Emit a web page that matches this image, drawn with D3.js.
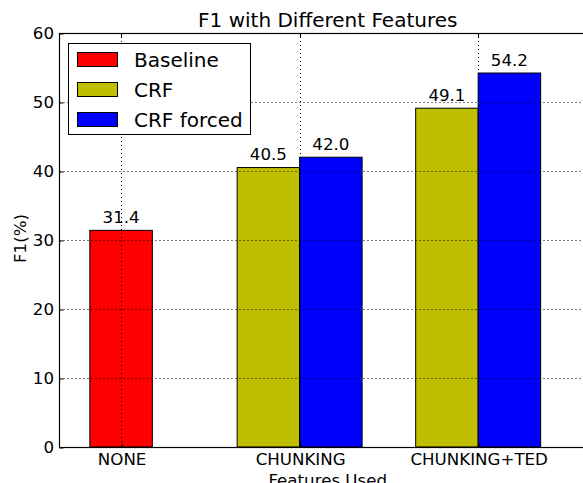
<!DOCTYPE html>
<html><head><meta charset="utf-8">
<script src="https://cdn.jsdelivr.net/npm/d3@7"></script>
<style>body{margin:0;background:#fff}svg{display:block}text{font-family:"DejaVu Sans",sans-serif;fill:#000}</style>
</head><body>
<svg id="c" width="583" height="483"></svg>
<script>
const categories = ["NONE", "CHUNKING", "CHUNKING+TED"];
const seriesNames = ["Baseline", "CRF", "CRF forced"];
const baselineValues = [31.4, null, null];
const crfValues = [null, 40.5, 49.1];
const crfForcedValues = [null, 42.0, 54.2];
const yTicks = [0, 10, 20, 30, 40, 50, 60];
const colors = ["#ff0000", "#bfbf00", "#0000ff"];

const svg = d3.select("#c");
const T = 33, B = 447;
const bw = 0.35;
const x = d3.scaleLinear().domain([-0.345, 2.66]).range([59.5, 596]);
const L = x(-0.345), R = x(2.66);
const y = d3.scaleLinear().domain([0, 60]).range([B, T]);
const fs = "16.67px";

const bars = [];
baselineValues.forEach((v, i) => { if (v != null) bars.push({x0: i - bw / 2, v, s: 0}); });
crfValues.forEach((v, i) => { if (v != null) bars.push({x0: i - bw, v, s: 1}); });
crfForcedValues.forEach((v, i) => { if (v != null) bars.push({x0: i, v, s: 2}); });

const clip = svg.append("defs").append("clipPath").attr("id", "pc");
clip.append("rect").attr("x", L).attr("y", T).attr("width", R - L).attr("height", B - T + 1);

const g = svg.append("g").attr("clip-path", "url(#pc)");
g.selectAll("rect.bar").data(bars).join("rect")
  .attr("x", d => x(d.x0)).attr("width", d => x(d.x0 + bw) - x(d.x0))
  .attr("y", d => y(d.v)).attr("height", d => y(0) - y(d.v))
  .attr("fill", d => colors[d.s]).attr("stroke", "#000").attr("stroke-width", 1);

// grid on top of bars
g.selectAll("line.hg").data(yTicks).join("line")
  .attr("x1", L).attr("x2", R).attr("y1", d => y(d) + 0.5).attr("y2", d => y(d) + 0.5)
  .attr("stroke", "#000").attr("stroke-width", 1).attr("stroke-dasharray", "1,3");
g.selectAll("line.vg").data(categories.map((c, i) => i)).join("line")
  .attr("y1", T).attr("y2", B).attr("x1", d => Math.round(x(d)) + 0.5).attr("x2", d => Math.round(x(d)) + 0.5)
  .attr("stroke", "#000").attr("stroke-width", 1).attr("stroke-dasharray", "1,3");

// value labels
svg.selectAll("text.val").data(bars).join("text")
  .attr("x", d => x(d.x0 + bw / 2)).attr("y", d => y(d.v) - 7.5)
  .attr("text-anchor", "middle").style("font-size", fs)
  .text(d => d.v.toFixed(1));

// axes frame
svg.append("rect").attr("x", L).attr("y", T + 0.5).attr("width", R - L).attr("height", B - T)
  .attr("fill", "none").attr("stroke", "#000").attr("stroke-width", 1.2);

// y axis (ticks inward)
const ya = d3.axisLeft(y).tickValues(yTicks).tickSizeInner(-4).tickSizeOuter(0).tickPadding(5.5);
const yg = svg.append("g").attr("transform", `translate(${L},0.5)`).call(ya);
yg.select(".domain").remove();
yg.selectAll("text").style("font-size", fs).style("font-family", "DejaVu Sans");

// x axis bottom
const xa = d3.axisBottom(x).tickValues([0, 1, 2]).tickFormat(i => categories[i]).tickSizeInner(-4).tickSizeOuter(0).tickPadding(6);
const xg = svg.append("g").attr("transform", `translate(0.5,${B + 0.5})`).call(xa);
xg.select(".domain").remove();
xg.selectAll("text").style("font-size", fs).style("font-family", "DejaVu Sans");
// top ticks
svg.selectAll("line.tt").data([0, 1, 2]).join("line")
  .attr("x1", d => Math.round(x(d)) + 0.5).attr("x2", d => Math.round(x(d)) + 0.5)
  .attr("y1", T).attr("y2", T + 4).attr("stroke", "#000");

// title & labels
svg.append("text").attr("x", (L + R) / 2).attr("y", 27).attr("text-anchor", "middle")
  .style("font-size", "20px").text("F1 with Different Features");
svg.append("text").attr("x", (L + R) / 2).attr("y", 485.5).attr("text-anchor", "middle")
  .style("font-size", fs).text("Features Used");
svg.append("text").attr("transform", `translate(25.5,${(T + B) / 2 - 1.5}) rotate(-90)`).attr("text-anchor", "middle")
  .style("font-size", fs).text("F1(%)");

// legend
const lg = svg.append("g");
lg.append("rect").attr("x", 68.5).attr("y", 43.5).attr("width", 182).attr("height", 91)
  .attr("fill", "#fff").attr("stroke", "#000");
seriesNames.forEach((n, i) => {
  const yy = 52 + i * 30;
  lg.append("rect").attr("x", 77.5).attr("y", yy + 0.5).attr("width", 40).attr("height", 14)
    .attr("fill", colors[i]).attr("stroke", "#000");
  lg.append("text").attr("x", 134).attr("y", yy + 14.5).style("font-size", "20px").text(n);
});
</script>
</body></html>
